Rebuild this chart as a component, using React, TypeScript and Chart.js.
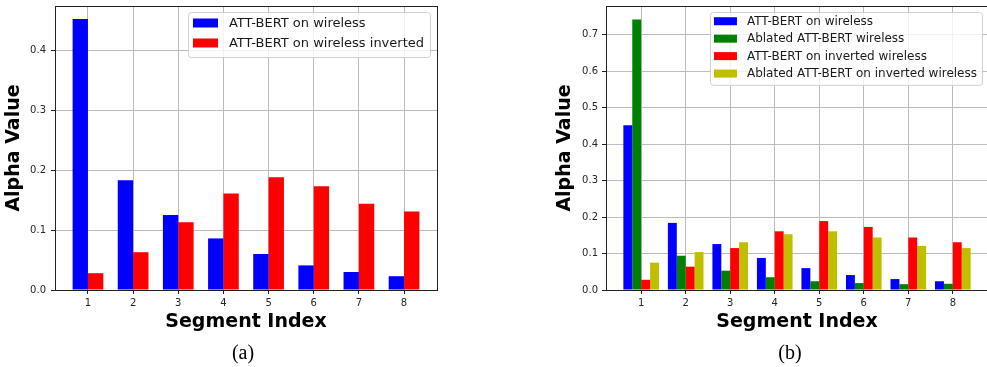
import React, { useEffect, useRef } from "react";
import { Chart, registerables } from "chart.js";

Chart.register(...registerables);

// ---------- data ----------
const segments = [1, 2, 3, 4, 5, 6, 7, 8];

// (a)
const labelsA = ["ATT-BERT on wireless", "ATT-BERT on wireless inverted"];
const attWirelessA = [0.452, 0.183, 0.125, 0.086, 0.06, 0.041, 0.03, 0.023];
const attInvertedA = [0.028, 0.063, 0.113, 0.161, 0.188, 0.173, 0.144, 0.131];
const yTicksA = [0, 0.1, 0.2, 0.3, 0.4];

// (b)
const labelsB = [
  "ATT-BERT on wireless",
  "Ablated ATT-BERT wireless",
  "ATT-BERT on inverted wireless",
  "Ablated ATT-BERT on inverted wireless",
];
const attWirelessB = [0.452, 0.184, 0.126, 0.088, 0.06, 0.041, 0.03, 0.024];
const ablatedWirelessB = [0.742, 0.094, 0.053, 0.035, 0.024, 0.019, 0.016, 0.017];
const attInvertedB = [0.028, 0.064, 0.115, 0.161, 0.189, 0.173, 0.144, 0.131];
const ablatedInvertedB = [0.075, 0.104, 0.131, 0.153, 0.161, 0.144, 0.121, 0.115];
const yTicksB = [0, 0.1, 0.2, 0.3, 0.4, 0.5, 0.6, 0.7];

const colorsA = ["#0000ff", "#ff0000"];
const colorsB = ["#0000ff", "#008000", "#ff0000", "#bfbf00"];

const FONT = '"DejaVu Sans", "Liberation Sans", sans-serif';
const GRID = "#bcbcbc";

type LegendCfg = {
  labels: string[];
  colors: string[];
  fontSize: number;
  rowH: number;
  padL: number;
  padR: number;
  padT: number;
  padB: number;
  swW: number;
  swH: number;
  gap: number;
  marginR: number;
  marginT: number;
};

function makeFramePlugin() {
  return {
    id: "frameBox",
    afterDraw(chart: any) {
      const { ctx, chartArea } = chart;
      ctx.save();
      ctx.strokeStyle = "#222";
      ctx.lineWidth = 1;
      ctx.strokeRect(
        Math.round(chartArea.left) + 0.5,
        Math.round(chartArea.top) + 0.5,
        Math.round(chartArea.right - chartArea.left),
        Math.round(chartArea.bottom - chartArea.top)
      );
      ctx.restore();
    },
  };
}

function makeLegendPlugin(cfg: LegendCfg) {
  return {
    id: "boxLegend",
    afterDraw(chart: any) {
      const { ctx, chartArea } = chart;
      ctx.save();
      ctx.font = `${cfg.fontSize}px ${FONT}`;
      const maxW = Math.max(...cfg.labels.map((l) => ctx.measureText(l).width));
      const boxW = cfg.padL + cfg.swW + cfg.gap + maxW + cfg.padR;
      const boxH = cfg.padT + cfg.rowH * cfg.labels.length + cfg.padB;
      const x0 = chartArea.right - cfg.marginR - boxW;
      const y0 = chartArea.top + cfg.marginT;
      ctx.beginPath();
      (ctx as any).roundRect(x0 + 0.5, y0 + 0.5, boxW, boxH, 3);
      ctx.fillStyle = "rgba(255,255,255,0.8)";
      ctx.fill();
      ctx.strokeStyle = "#d0d0d0";
      ctx.lineWidth = 1;
      ctx.stroke();
      cfg.labels.forEach((label, i) => {
        const cy = y0 + cfg.padT + cfg.rowH * (i + 0.5);
        ctx.fillStyle = cfg.colors[i];
        ctx.fillRect(x0 + cfg.padL, cy - cfg.swH / 2, cfg.swW, cfg.swH);
        ctx.fillStyle = "#1a1a1a";
        ctx.textBaseline = "middle";
        ctx.textAlign = "left";
        ctx.fillText(label, x0 + cfg.padL + cfg.swW + cfg.gap, cy + 0.5);
      });
      ctx.restore();
    },
  };
}

type PanelCfg = {
  width: number;
  height: number;
  series: number[][];
  labels: string[];
  colors: string[];
  groupWidth: number;
  xMin: number;
  xMax: number;
  yMax: number;
  yTicks: number[];
  padding: { left: number; right: number; top: number; bottom: number };
  yAxisWidth: number;
  xAxisHeight: number;
  yTickPad: number;
  tickFont: number;
  legend: LegendCfg;
};

function Panel({ cfg }: { cfg: PanelCfg }) {
  const ref = useRef<HTMLCanvasElement>(null);
  useEffect(() => {
    if (!ref.current) return;
    const chart = new Chart(ref.current, {
      type: "bar",
      data: {
        datasets: cfg.series.map((s, i) => ({
          label: cfg.labels[i],
          data: segments.map((x, j) => ({ x, y: s[j] })),
          backgroundColor: cfg.colors[i],
          borderWidth: 0,
          categoryPercentage: cfg.groupWidth,
          barPercentage: 1,
        })),
      },
      options: {
        responsive: false,
        animation: false,
        events: [],
        layout: { padding: cfg.padding },
        plugins: { legend: { display: false }, tooltip: { enabled: false } },
        scales: {
          x: {
            type: "linear",
            min: cfg.xMin,
            max: cfg.xMax,
            offset: false,
            z: 1,
            afterBuildTicks: (scale: any) => {
              scale.ticks = segments.map((v) => ({ value: v }));
            },
            afterFit: (scale: any) => {
              scale.height = cfg.xAxisHeight;
              scale.paddingLeft = 0;
              scale.paddingRight = 0;
            },
            grid: {
              offset: false,
              color: GRID,
              lineWidth: 1,
              drawTicks: true,
              tickLength: 4,
              tickColor: "#222",
            },
            border: { display: false },
            ticks: {
              autoSkip: false,
              maxRotation: 0,
              padding: 3,
              color: "#262626",
              font: { family: FONT, size: cfg.tickFont },
              callback: (v: any) => String(v),
            },
            title: {
              display: true,
              text: "Segment Index",
              color: "#000",
              font: { family: FONT, size: 19, weight: "bold", lineHeight: 1.2 },
              padding: { top: 0, bottom: 0 },
            },
          },
          y: {
            type: "linear",
            min: 0,
            max: cfg.yMax,
            z: 1,
            afterBuildTicks: (scale: any) => {
              scale.ticks = cfg.yTicks.map((v) => ({ value: v }));
            },
            afterFit: (scale: any) => {
              scale.width = cfg.yAxisWidth;
              scale.paddingTop = 0;
              scale.paddingBottom = 0;
            },
            grid: {
              color: GRID,
              lineWidth: 1,
              drawTicks: true,
              tickLength: 4,
              tickColor: "#222",
            },
            border: { display: false },
            ticks: {
              padding: cfg.yTickPad,
              color: "#262626",
              font: { family: FONT, size: cfg.tickFont },
              callback: (v: any) => Number(v).toFixed(1),
            },
            title: {
              display: true,
              text: "Alpha Value",
              color: "#000",
              font: { family: FONT, size: 19, weight: "bold", lineHeight: 1.2 },
              padding: { top: 3, bottom: 0 },
            },
          },
        },
      } as any,
      plugins: [makeFramePlugin(), makeLegendPlugin(cfg.legend)],
    });
    return () => chart.destroy();
  }, [cfg]);
  return (
    <canvas
      ref={ref}
      width={cfg.width}
      height={cfg.height}
      style={{ width: cfg.width, height: cfg.height, display: "block" }}
    />
  );
}

const panelA: PanelCfg = {
  width: 470,
  height: 367,
  series: [attWirelessA, attInvertedA],
  labels: labelsA,
  colors: colorsA,
  groupWidth: 0.68,
  xMin: 0.27,
  xMax: 8.73,
  yMax: 0.4735,
  yTicks: yTicksA,
  padding: { left: 0, right: 33, top: 6, bottom: 34 },
  yAxisWidth: 55,
  xAxisHeight: 43,
  yTickPad: 5,
  tickFont: 10,
  legend: {
    labels: labelsA,
    colors: colorsA,
    fontSize: 13,
    rowH: 20,
    padL: 5,
    padR: 6,
    padT: 1,
    padB: 4,
    swW: 25,
    swH: 9,
    gap: 11,
    marginR: 7,
    marginT: 6,
  },
};

const panelB: PanelCfg = {
  width: 460,
  height: 367,
  series: [attWirelessB, ablatedWirelessB, attInvertedB, ablatedInvertedB],
  labels: labelsB,
  colors: colorsB,
  groupWidth: 0.8,
  xMin: 0.21,
  xMax: 8.79,
  yMax: 0.779,
  yTicks: yTicksB,
  padding: { left: 21, right: 2, top: 6, bottom: 34 },
  yAxisWidth: 55,
  xAxisHeight: 43,
  yTickPad: 4,
  tickFont: 10,
  legend: {
    labels: labelsB,
    colors: colorsB,
    fontSize: 12,
    rowH: 17.45,
    padL: 4,
    padR: 5,
    padT: 0.5,
    padB: 2.5,
    swW: 23,
    swH: 8,
    gap: 10,
    marginR: 6,
    marginT: 6,
  },
};

const captionStyle: React.CSSProperties = {
  position: "absolute",
  top: 340,
  width: 60,
  height: 24,
  lineHeight: "24px",
  textAlign: "center",
  fontFamily: '"Liberation Serif", "Times New Roman", serif',
  fontSize: 20,
  color: "#000",
};

export default function App() {
  return (
    <div
      style={{
        position: "absolute",
        left: 0,
        top: 0,
        width: 987,
        height: 367,
        overflow: "hidden",
        background: "#fff",
      }}
    >
      <div style={{ position: "absolute", left: 0, top: 0 }}>
        <Panel cfg={panelA} />
      </div>
      <div style={{ position: "absolute", left: 530, top: 0 }}>
        <Panel cfg={panelB} />
      </div>
      <div style={{ ...captionStyle, left: 243 - 30 }}>(a)</div>
      <div style={{ ...captionStyle, left: 790 - 30 }}>(b)</div>
    </div>
  );
}
